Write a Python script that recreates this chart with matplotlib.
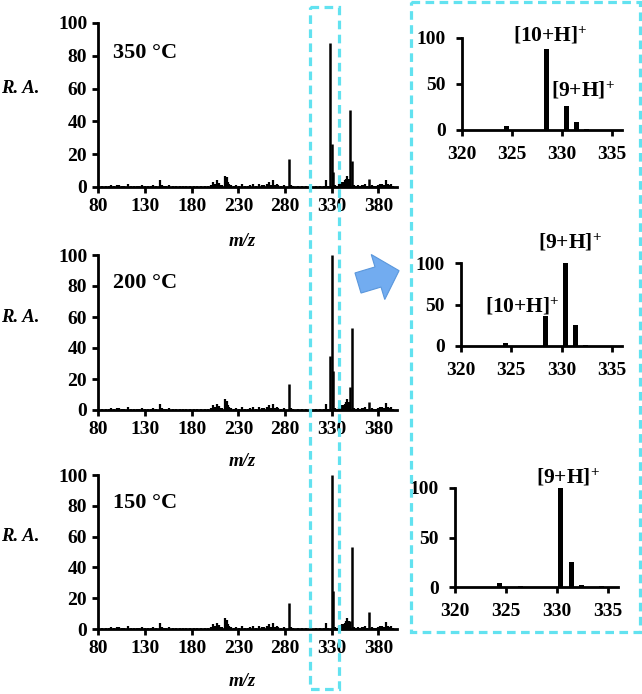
import numpy as np
import matplotlib
matplotlib.use("Agg")
import matplotlib.pyplot as plt
from matplotlib.patches import Rectangle, FancyArrow

# background noise shared by the three full spectra (m/z, R.A.)
bg_mz = [84, 88, 91, 94, 97, 100, 102, 105, 108, 112, 115, 118, 121, 124, 127,
         130, 133, 136, 139, 142, 146, 148, 150, 153, 156, 160, 163, 167, 171,
         174, 178, 182, 186, 190, 194, 198, 201, 203, 205, 207, 209, 211, 213,
         216, 218, 219, 220, 222, 225, 228, 231, 234, 237, 240, 243, 246, 249,
         252, 255, 258, 261, 263, 265, 267, 269, 271, 272, 276, 279, 286, 289,
         294, 298, 303, 308, 313, 318, 322, 324, 326, 334, 336, 338, 339, 341,
         342, 343, 344, 345, 346, 347, 348, 349, 354, 356, 358, 360, 362, 364,
         366, 368, 373, 375, 377, 380, 382, 384, 386, 388, 390, 392, 394, 396]
bg_ra = [0.6, 0.9, 0.5, 1.0, 0.6, 1.5, 1.2, 0.5, 0.8, 2.0, 0.6, 0.5, 0.8, 0.7,
         1.0, 0.5, 0.9, 0.7, 1.0, 0.6, 4.0, 1.5, 0.8, 0.5, 1.0, 0.6, 0.7, 0.5,
         0.8, 0.6, 0.5, 0.7, 0.5, 0.6, 0.5, 0.8, 1.2, 3.0, 2.0, 4.0, 2.5, 1.5,
         1.0, 7.0, 6.0, 3.0, 2.0, 1.0, 0.8, 1.5, 0.8, 2.0, 0.7, 0.6, 1.5, 1.8,
         0.8, 2.0, 1.5, 1.0, 2.0, 3.0, 1.5, 4.0, 1.0, 2.0, 1.0, 0.8, 1.0, 1.0,
         0.6, 0.5, 0.6, 0.5, 0.6, 0.5, 0.7, 0.5, 4.0, 0.8, 1.0, 0.5, 2.0, 2.5,
         3.0, 2.5, 3.0, 4.0, 5.0, 7.0, 4.0, 5.0, 5.0, 1.0, 0.8, 1.0, 0.6, 1.5,
         1.0, 2.0, 0.8, 1.0, 0.6, 0.8, 1.5, 2.0, 2.0, 1.0, 4.5, 2.0, 1.0, 2.0,
         0.8]

# main peaks of each spectrum
peak_mz_350 = [284, 328, 330, 331, 350, 352, 370]
peak_ra_350 = [17, 88, 26, 9, 47, 16, 5]
peak_mz_200 = [284, 328, 330, 331, 350, 352, 370]
peak_ra_200 = [17, 35, 100, 25, 15, 53, 5]
peak_mz_150 = [284, 330, 331, 350, 352, 370]
peak_ra_150 = [17, 100, 25, 5, 53, 11]

# zoomed region 320-336
inset_mz_350 = [324.4, 328.4, 330.4, 331.4, 332.4]
inset_ra_350 = [4, 88, 26, 9, 1]
inset_mz_200 = [324.4, 328.4, 330.4, 331.4, 332.4]
inset_ra_200 = [4, 36, 100, 25, 1]
inset_mz_150 = [324.4, 326.4, 330.4, 331.4, 332.4, 334.4]
inset_ra_150 = [4, 0.8, 100, 25, 2, 0.8]

temps = ["350 °C", "200 °C", "150 °C"]
full_ticks = [80, 130, 180, 230, 280, 330, 380]
inset_ticks = [320, 325, 330, 335]

FONT = "Liberation Serif"
W, H = 642, 694

plt.rcParams["mathtext.fontset"] = "custom"
plt.rcParams["mathtext.rm"] = FONT + ":bold"
plt.rcParams["mathtext.it"] = FONT + ":bold"
plt.rcParams["mathtext.bf"] = FONT + ":bold"


def fig_rect(x0, y_top, x1, y_bot):
    """Pixel box -> figure fraction [left, bottom, width, height]"""
    return [x0 / W, 1 - y_bot / H, (x1 - x0) / W, (y_bot - y_top) / H]


def style_axes(ax, ticksize=14, pad=4):
    for side in ["top", "right"]:
        ax.spines[side].set_visible(False)
    for side in ["left", "bottom"]:
        ax.spines[side].set_linewidth(2.0)
    ax.tick_params(direction="out", length=4.5, width=2.0, pad=pad)
    for lab in ax.get_xticklabels() + ax.get_yticklabels():
        lab.set_fontfamily(FONT)
        lab.set_fontweight("bold")
        lab.set_fontsize(ticksize)


fig = plt.figure(figsize=(W / 100, H / 100), dpi=100)

full_boxes = [(98.3, 23, 397, 187), (98.3, 255, 397, 410), (98.3, 475, 397, 629)]
inset_boxes = [(462, 38, 622, 130), (461, 263, 622, 346), (455, 488, 618, 587)]
peaks = [(peak_mz_350, peak_ra_350), (peak_mz_200, peak_ra_200), (peak_mz_150, peak_ra_150)]
insets = [(inset_mz_350, inset_ra_350), (inset_mz_200, inset_ra_200), (inset_mz_150, inset_ra_150)]

for i in range(3):
    ax = fig.add_axes(fig_rect(*full_boxes[i]))
    ax.vlines(bg_mz, 0, bg_ra, color="black", linewidth=1.6)
    ax.vlines(peaks[i][0], 0, peaks[i][1], color="black", linewidth=1.8)
    ax.set_xlim(80, 400)
    ax.set_ylim(0, 100)
    ax.set_xticks(full_ticks)
    ax.set_yticks([0, 20, 40, 60, 80, 100])
    style_axes(ax, ticksize=14, pad=3.5)
    ax.text(0.05, 0.82, temps[i], transform=ax.transAxes, fontfamily=FONT,
            fontweight="bold", fontsize=16, va="center", ha="left")
    ax.text(-0.26, 0.6, "R. A.", transform=ax.transAxes, fontfamily=FONT,
            fontweight="bold", fontstyle="italic", fontsize=13.5,
            va="center", ha="center")

    ax2 = fig.add_axes(fig_rect(*inset_boxes[i]))
    ax2.bar(insets[i][0], insets[i][1], width=0.5, color="black")
    ax2.set_xlim(320, 336)
    ax2.set_ylim(0, 100)
    ax2.set_xticks(inset_ticks)
    ax2.set_yticks([0, 50, 100])
    style_axes(ax2, ticksize=14, pad=7)

# m/z axis titles
for y in [242, 461, 681]:
    fig.text(242 / W, 1 - y / H, "m/z", fontfamily=FONT, fontweight="bold",
             fontstyle="italic", fontsize=13.5, ha="center", va="center")

# peak labels in the insets
labels = [
    (550, 36, "[10+H]$^{+}$"),
    (583, 91, "[9+H]$^{+}$"),
    (570, 243, "[9+H]$^{+}$"),
    (522, 307, "[10+H]$^{+}$"),
    (568, 478, "[9+H]$^{+}$"),
]
for x, y, s in labels:
    fig.text(x / W, 1 - y / H, s, fontfamily=FONT, fontweight="bold",
             fontsize=15.5, ha="center", va="center")

# overlay in pixel units for the dashed boxes and the arrow
over = fig.add_axes([0, 0, 1, 1], facecolor="none")
over.set_xlim(0, W)
over.set_ylim(H, 0)
over.axis("off")
cyan = "#62e2f0"
over.add_patch(Rectangle((310, 7), 29, 682, fill=False, edgecolor=cyan,
                         linewidth=2.3, linestyle=(0, (2.7, 1.7))))
over.add_patch(Rectangle((411, 2), 229, 630, fill=False, edgecolor=cyan,
                         linewidth=2.3, linestyle=(0, (2.7, 1.7))))
over.add_patch(FancyArrow(358, 283, 20, -6, width=21, head_width=47,
                          head_length=22, length_includes_head=False,
                          facecolor="#72acf0", edgecolor="#5a97dc", linewidth=0.8))

fig.savefig("out.png", dpi=100)
